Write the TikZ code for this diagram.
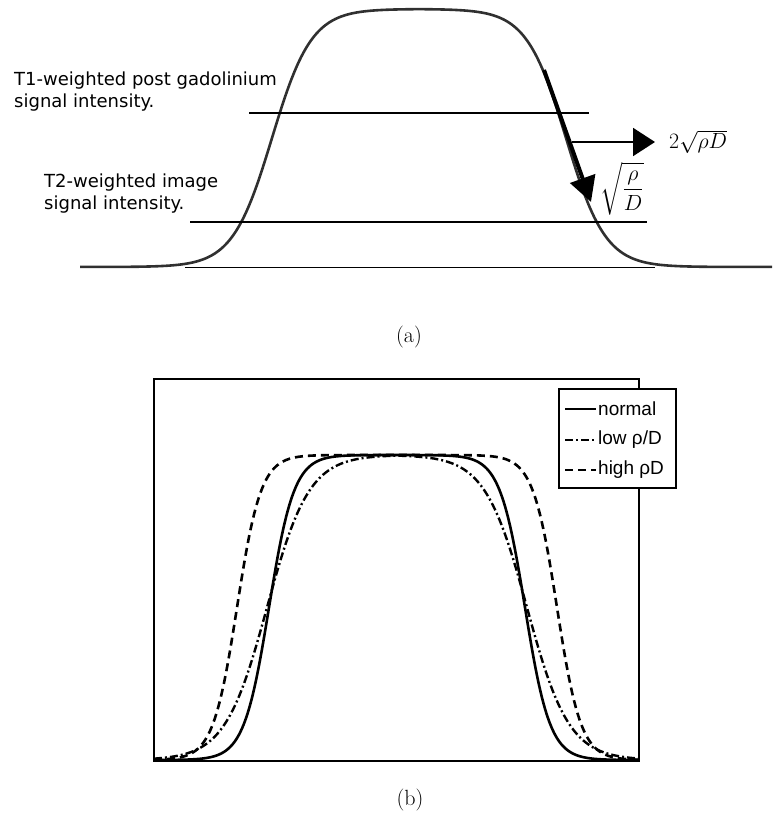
\documentclass[tikz,border=0pt]{standalone}
\usepackage{amsmath,amssymb}
\usepackage{graphicx}
\usepackage{fontspec}
\usetikzlibrary{arrows.meta}
\newfontfamily\notefont{DejaVu Sans}
\newfontfamily\legfont{Liberation Sans}
\definecolor{curvegray}{RGB}{48,48,48}
\newcommand{\bigmath}[1]{\scalebox{1.27}{$#1$}}

\begin{document}
\begin{tikzpicture}[x=1pt,y=-1pt,
  profile/.style={curvegray,line width=2.6pt},
  cutline/.style={black,line width=2pt},
  note/.style={font=\notefont\fontsize{18}{22}\selectfont,anchor=north west,align=left,inner sep=0pt},
  legtext/.style={font=\legfont\fontsize{19}{23}\selectfont,anchor=west,inner sep=0pt},
  mathlbl/.style={font=\fontsize{17.28}{21}\selectfont,inner sep=0pt},
  normalc/.style={line width=2.6pt},
  lowc/.style={line width=2.4pt,dash pattern=on 8pt off 3pt on 2pt off 3pt},
  highc/.style={line width=2.6pt,dash pattern=on 8pt off 5pt},
  caption/.style={font=\fontsize{22}{26}\selectfont,inner sep=0pt}]
  \useasboundingbox (0,0) rectangle (772,814);
  \coordinate (baseL) at (185,267);
  \coordinate (baseR) at (655,267);
  \draw[line width=1pt] (baseL) -- (baseR);
  \draw[profile] plot[domain=80:772,samples=320] (\x,{267-258/(1+exp(min((abs(\x-419)-147)/19.75,8)))});
  \coordinate (t1L) at (249,113);
  \coordinate (t1R) at (589,113);
  \draw[cutline] (t1L) -- (t1R);
  \coordinate (t2L) at (190,222);
  \coordinate (t2R) at (647,222);
  \draw[cutline] (t2L) -- (t2R);
  \node[note] (t1note) at (14,71.3) {T1-weighted post gadolinium\\signal intensity.};
  \node[note] (t2note) at (44,173.3) {T2-weighted image\\signal intensity.};
  \coordinate (hstart) at (572,142);
  \coordinate (hend) at (655,142);
  \draw[line width=2pt,-{Triangle[length=22pt,width=28pt]}] (hstart) -- (hend);
  \node[mathlbl,anchor=west] (speed) at (669,142) {\bigmath{2\sqrt{\rho D}}};
  \coordinate (sstart) at (544,70);
  \coordinate (send) at (591,202);
  \draw[line width=4pt,-{Triangle[length=25pt,width=26pt]}] (sstart) -- (send);
  \node[mathlbl] (width) at (622,189) {\bigmath{\sqrt{\dfrac{\rho}{D}}}};
  \node[caption] (capa) at (409,337) {(a)};
  \draw[line width=1.3pt] (154,379) rectangle (639,761);
  \draw[normalc] plot[domain=154:639,samples=320] (\x,{760-305/(1+exp(min((abs(\x-397)-128)/12.5,8)))});
  \draw[lowc] plot[domain=154:639,samples=320] (\x,{760-305/(1+exp(min((abs(\x-397)-130)/21,8)))});
  \draw[highc] plot[domain=154:639,samples=320] (\x,{760-305/(1+exp(min((abs(\x-397)-160)/12,8)))});
  \draw[line width=1.2pt,fill=white] (559,389) rectangle (676,488);
  \coordinate (l1a) at (565,409); \coordinate (l1b) at (596,409);
  \coordinate (l2a) at (565,440); \coordinate (l2b) at (596,440);
  \coordinate (l3a) at (565,470); \coordinate (l3b) at (596,470);
  \draw[normalc] (l1a) -- (l1b);
  \draw[lowc] (l2a) -- (l2b);
  \draw[highc] (l3a) -- (l3b);
  \node[legtext] (normal) at (598,409) {normal};
  \node[legtext] (low) at (598,440) {low ρ/D};
  \node[legtext] (high) at (598,470) {high ρD};
  \node[caption] (capb) at (410,800) {(b)};
\end{tikzpicture}
\end{document}
